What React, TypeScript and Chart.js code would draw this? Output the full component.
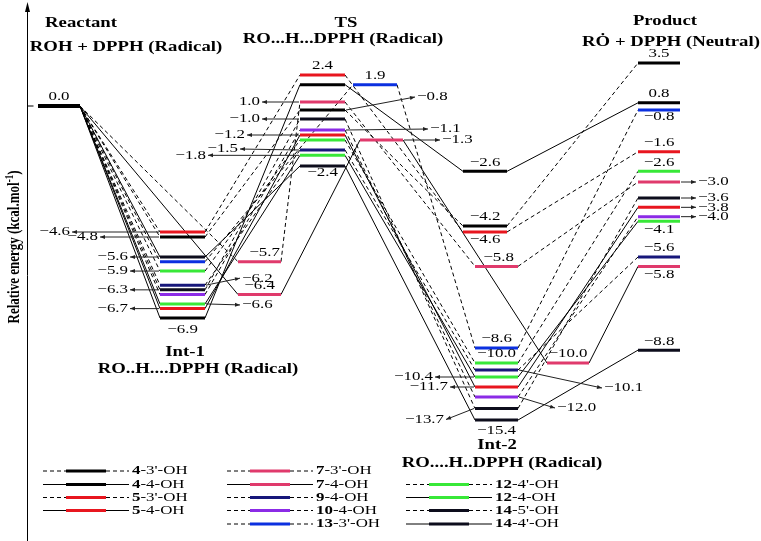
import React, { useEffect, useRef } from 'react';
import { Chart, registerables, LinearScale } from 'chart.js';

// ---------------- data ----------------
const stages = ['Reactant', 'Int-1', 'TS', 'Int-2', 'Product'];
const seriesNames = ["4-3'-OH", "4-4-OH", "5-3'-OH", "5-4-OH", "7-3'-OH", "7-4-OH", "9-4-OH", "10-4-OH", "13-3'-OH", "12-4'-OH", "12-4-OH", "14-5'-OH", "14-4'-OH"];
// relative energies (kcal/mol) per stage: Reactant, Int-1, TS, Int-2, Product
const e4_3 = [0, -4.8, -0.8, -4.2, 3.5];
const e4_4 = [0, -6.9, 1.9, -2.6, 0.8];
const e5_3 = [0, -4.6, 2.4, -4.6, -1.6];
const e5_4 = [0, -6.7, -1.2, -11.7, -3.8];
const e7_3 = [0, -5.7, 1.0, -5.8, -3.0];
const e7_4 = [0, -6.4, -1.3, -10.0, -5.8];
const e9_4 = [0, -6.2, -1.5, -10.1, -5.6];
const e10_4 = [0, -6.4, -1.1, -12.0, -4.0];
const e13_3 = [0, -5.7, 1.9, -8.6, -0.8];
const e12_4p = [0, -5.9, -1.3, -10.0, -2.6];
const e12_4 = [0, -6.6, -1.8, -10.4, -4.1];
const e14_5 = [0, -6.3, -1.0, -13.7, -3.6];
const e14_4 = [0, -5.6, -2.4, -15.4, -8.8];
const ENERGIES = [e4_3, e4_4, e5_3, e5_4, e7_3, e7_4, e9_4, e10_4, e13_3, e12_4p, e12_4, e14_5, e14_4];

// ---------------- styles / layout ----------------
const BLACK = '#000000', RED = '#e8161f', PINK = '#e03a6c', NAVY = '#17177a', PURPLE = '#8b2be6', BLUE = '#0b30e0', GREEN = '#38e838', DARK = '#0d0d1c';
const COLORS = [BLACK, BLACK, RED, RED, PINK, PINK, NAVY, PURPLE, BLUE, GREEN, GREEN, DARK, DARK];
const DASHED = [true, false, true, false, true, false, true, true, true, true, false, true, false];

// horizontal extent of each stage column (x-axis units)
const COLS: Record<string, [number, number]> = {
  R: [38, 80], I1: [160, 205], I1b: [238, 281], TS: [300, 345], TSb: [353, 397], TSc: [360, 403],
  I2: [475, 518], I2t: [463, 507], I2b: [547, 589], P: [638, 680],
};
const SERIES_COLS = seriesNames.map((_, i) =>
  i === 4 ? ['R', 'I1b', 'TS', 'I2', 'P'] :
  i === 5 ? ['R', 'I1b', 'TSc', 'I2b', 'P'] :
  i === 8 ? ['R', 'I1', 'TSb', 'I2', 'P'] :
  i <= 2 ? ['R', 'I1', 'TS', 'I2t', 'P'] : ['R', 'I1', 'TS', 'I2', 'P']);

// schematic (non-linear) energy axis: energy -> drawing depth
const Y_KNOTS: number[][] = [
  [3.5, 63], [2.4, 75], [1.0, 102], [0, 106], [-0.8, 110], [-1.0, 119], [-1.1, 130], [-1.5, 150],
  [-2.4, 166], [-3.6, 198], [-4.2, 226], [-4.6, 232], [-5.6, 257], [-6.9, 318], [-8.6, 348],
  [-10.0, 363], [-10.1, 370], [-10.4, 377], [-11.7, 387], [-12.0, 397], [-15.4, 420],
];
const DEPTH_MIN = 0, DEPTH_MAX = 541;

// label placement: [series, stage, position, dx, dy]
const LABELS: [number, number, string, number?, number?][] = [
  [0, 0, 'above'],
  [2, 1, 'left', -88, 0], [0, 1, 'left', -60, 0], [12, 1, 'left', -30, 0], [9, 1, 'left', -30, 0],
  [6, 1, 'right', 35, -7], [11, 1, 'left', -30, 0], [10, 1, 'right', 35, 1], [3, 1, 'left', -30, 0],
  [1, 1, 'below', 0, 12], [4, 1, 'above', 5, 0], [5, 1, 'above', 0, 0],
  [2, 2, 'above'], [8, 2, 'above'], [4, 2, 'left', -38, 0], [0, 2, 'right', 70, -13], [11, 2, 'left', -38, 0],
  [7, 2, 'right', 83, -1], [3, 2, 'left', -53, 0], [5, 2, 'right', 37, 0], [6, 2, 'left', -60, -1],
  [10, 2, 'left', -92, 0], [12, 2, 'below', 0, 7],
  [1, 3, 'above'], [0, 3, 'above'], [2, 3, 'below', 0, 8], [4, 3, 'above', 2, 0], [8, 3, 'above'], [9, 3, 'above'],
  [6, 3, 'right', 84, 18], [10, 3, 'left', -40, 0], [3, 3, 'left', -25, 0], [7, 3, 'right', 37, 11],
  [11, 3, 'left', -29, 11], [12, 3, 'below', 0, 11], [5, 3, 'above'],
  [0, 4, 'above'], [1, 4, 'above'], [8, 4, 'below', 0, 7], [2, 4, 'above'], [9, 4, 'above'],
  [4, 4, 'right', 16, 0], [11, 4, 'right', 16, 0], [3, 4, 'right', 16, 0], [7, 4, 'right', 16, 0],
  [10, 4, 'below', 0, 8], [6, 4, 'above'], [5, 4, 'below', 0, 8], [12, 4, 'above'],
];

const TITLES: [string, number, number][] = [
  ['Reactant', 81, 23], ['ROH + DPPH (Radical)', 126, 47],
  ['TS', 346, 23], ['RO...H...DPPH (Radical)', 343, 39],
  ['Product', 665, 21], ['R\u022E + DPPH (Neutral)', 671, 42],
  ['Int-1', 185, 352], ['RO..H....DPPH (Radical)', 198, 369],
  ['Int-2', 497, 445], ['RO....H..DPPH (Radical)', 502, 463],
];

// legend: [series, x0, row]
const LEGEND_ROWS = [471, 484.5, 497.5, 510.5, 524];
const LEGEND: [number, number, number][] = [
  [0, 43, 0], [1, 43, 1], [2, 43, 2], [3, 43, 3],
  [4, 227, 0], [5, 227, 1], [6, 227, 2], [7, 227, 3], [8, 227, 4],
  [9, 406, 1], [10, 406, 2], [11, 406, 3], [12, 406, 4],
];

// ---------------- custom schematic scale ----------------
function depthOf(v: number): number {
  const k = Y_KNOTS;
  let i = 0;
  if (v >= k[0][0]) i = 0;
  else if (v <= k[k.length - 1][0]) i = k.length - 2;
  else { while (i < k.length - 2 && !(v <= k[i][0] && v >= k[i + 1][0])) i++; }
  const [e0, d0] = k[i], [e1, d1] = k[i + 1];
  return d0 + (v - e0) * (d1 - d0) / (e1 - e0);
}
class SchematicScale extends LinearScale {
  static id = 'schematic';
  static defaults = {};
  getPixelForValue(v: number) {
    const d = depthOf(v);
    return this.top + (d - DEPTH_MIN) / (DEPTH_MAX - DEPTH_MIN) * (this.bottom - this.top);
  }
  getValueForPixel(p: number) {
    const d = DEPTH_MIN + (p - this.top) / (this.bottom - this.top) * (DEPTH_MAX - DEPTH_MIN);
    const k = Y_KNOTS;
    for (let i = 0; i < k.length - 1; i++) {
      const [e0, d0] = k[i], [e1, d1] = k[i + 1];
      if (d >= d0 && d <= d1) return e0 + (d - d0) * (e1 - e0) / (d1 - d0);
    }
    return 0;
  }
}
Chart.register(...registerables, SchematicScale as any);

const fmt = (v: number) => (v < 0 ? '\u2212' : '') + Math.abs(v).toFixed(1);
const SERIF = '"Liberation Serif", "Times New Roman", serif';

function sText(ctx: CanvasRenderingContext2D, s: string, x: number, y: number, align: CanvasTextAlign, font: string, sx: number) {
  ctx.save();
  ctx.font = font;
  ctx.translate(x, y);
  ctx.scale(sx, 1);
  ctx.textAlign = align;
  ctx.textBaseline = 'middle';
  ctx.fillStyle = '#000';
  ctx.fillText(s, 0, 0);
  ctx.restore();
}
function arrow(ctx: CanvasRenderingContext2D, x0: number, y0: number, x1: number, y1: number) {
  ctx.save();
  ctx.strokeStyle = '#222';
  ctx.fillStyle = '#222';
  ctx.lineWidth = 1;
  ctx.setLineDash([]);
  ctx.beginPath(); ctx.moveTo(x0, y0); ctx.lineTo(x1, y1); ctx.stroke();
  const a = Math.atan2(y1 - y0, x1 - x0);
  ctx.beginPath();
  ctx.moveTo(x1, y1);
  ctx.lineTo(x1 - 5 * Math.cos(a) + 2 * Math.sin(a), y1 - 5 * Math.sin(a) - 2 * Math.cos(a));
  ctx.lineTo(x1 - 5 * Math.cos(a) - 2 * Math.sin(a), y1 - 5 * Math.sin(a) + 2 * Math.cos(a));
  ctx.closePath(); ctx.fill();
  ctx.restore();
}

const annotPlugin = {
  id: 'annot',
  afterDatasetsDraw(chart: any) {
    const ctx: CanvasRenderingContext2D = chart.ctx;
    const xs = chart.scales.x, ys = chart.scales.y;
    const NUM = `13px ${SERIF}`;
    // axis
    const ax = Math.round(xs.getPixelForValue(27)) + 0.5;
    ctx.save();
    ctx.strokeStyle = '#000'; ctx.lineWidth = 1;
    ctx.beginPath(); ctx.moveTo(ax, 10); ctx.lineTo(ax, chart.height); ctx.stroke();
    ctx.fillStyle = '#000';
    ctx.beginPath(); ctx.moveTo(ax, 2); ctx.lineTo(ax - 2.5, 12); ctx.lineTo(ax + 2.5, 12); ctx.closePath(); ctx.fill();
    const y0 = ys.getPixelForValue(0);
    ctx.beginPath(); ctx.moveTo(ax, y0); ctx.lineTo(ax + 6, y0); ctx.stroke();
    ctx.restore();
    // y-axis title
    ctx.save();
    ctx.translate(15, 247);
    ctx.rotate(-Math.PI / 2);
    ctx.scale(1, 1.3);
    ctx.fillStyle = '#000';
    ctx.textBaseline = 'middle';
    ctx.textAlign = 'left';
    const main = 'Relative energy (kcal.mol';
    ctx.font = `bold 13px ${SERIF}`;
    const w1 = ctx.measureText(main).width;
    const w3 = ctx.measureText(')').width;
    ctx.font = `bold 9px ${SERIF}`;
    const w2 = ctx.measureText('-1').width;
    const start = -(w1 + w2 + w3) / 2;
    ctx.font = `bold 13px ${SERIF}`;
    ctx.fillText(main, start, 0);
    ctx.font = `bold 9px ${SERIF}`;
    ctx.fillText('-1', start + w1, -4);
    ctx.font = `bold 13px ${SERIF}`;
    ctx.fillText(')', start + w1 + w2, 0);
    ctx.restore();
    // titles
    for (const [t, x, y] of TITLES) sText(ctx, t, x, y, 'center', `bold 15px ${SERIF}`, 1.25);
    // value labels
    for (const [s, st, pos, dxv, dyv] of LABELS) {
      const dx = dxv ?? 0, dy = dyv ?? 0;
      const [a, b] = COLS[SERIES_COLS[s][st]];
      const e = ENERGIES[s][st];
      const xa = xs.getPixelForValue(a), xb = xs.getPixelForValue(b), y = ys.getPixelForValue(e);
      const t = fmt(e);
      if (pos === 'above') sText(ctx, t, (xa + xb) / 2 + dx, y - 9 + dy, 'center', NUM, 1.3);
      else if (pos === 'below') sText(ctx, t, (xa + xb) / 2 + dx, y + (dyv ?? 9), 'center', NUM, 1.3);
      else if (pos === 'left') {
        arrow(ctx, xa - 1, y, xa + dx, y + dy);
        sText(ctx, t, xa + dx - 2, y + dy, 'right', NUM, 1.3);
      } else if (pos === 'right') {
        arrow(ctx, xb + 1, y, xb + dx, y + dy);
        sText(ctx, t, xb + dx + 2, y + dy, 'left', NUM, 1.3);
      }
    }
    // legend
    for (const [s, x0, row] of LEGEND) {
      const y = LEGEND_ROWS[row];
      ctx.save();
      ctx.strokeStyle = '#000'; ctx.lineWidth = 1;
      ctx.setLineDash(DASHED[s] ? [4, 3] : []);
      ctx.beginPath(); ctx.moveTo(x0, y); ctx.lineTo(x0 + 23, y); ctx.moveTo(x0 + 63, y); ctx.lineTo(x0 + 86, y); ctx.stroke();
      ctx.setLineDash([]);
      ctx.strokeStyle = COLORS[s]; ctx.lineWidth = 3;
      ctx.beginPath(); ctx.moveTo(x0 + 23, y); ctx.lineTo(x0 + 63, y); ctx.stroke();
      ctx.restore();
      const name = seriesNames[s];
      const k = name.indexOf('-');
      const num = name.slice(0, k), rest = name.slice(k);
      ctx.save();
      ctx.font = `bold 13px ${SERIF}`;
      const wn = ctx.measureText(num).width * 1.3;
      ctx.restore();
      sText(ctx, num, x0 + 89, y, 'left', `bold 13px ${SERIF}`, 1.3);
      sText(ctx, rest, x0 + 89 + wn, y, 'left', `13px ${SERIF}`, 1.3);
    }
  },
};

function buildDatasets() {
  const out: any[] = [];
  ENERGIES.forEach((en, s) => {
    const pts: { x: number; y: number }[] = [];
    stages.forEach((_, st) => {
      const [a, b] = COLS[SERIES_COLS[s][st]];
      pts.push({ x: a, y: en[st] }, { x: b, y: en[st] });
    });
    const color = COLORS[s];
    out.push({
      label: seriesNames[s] + ' links',
      data: pts,
      order: 2,
      borderColor: BLACK,
      borderWidth: 1,
      borderDash: DASHED[s] ? [4, 3] : [],
      pointRadius: 0,
      tension: 0,
      segment: { borderColor: (c: any) => (c.p0DataIndex % 2 === 0 ? 'rgba(0,0,0,0)' : BLACK) },
    });
    out.push({
      label: seriesNames[s],
      data: pts,
      order: 1,
      borderColor: color,
      borderWidth: 3,
      borderCapStyle: 'butt',
      pointRadius: 0,
      tension: 0,
      segment: {
        borderColor: (c: any) => (c.p0DataIndex % 2 === 1 ? 'rgba(0,0,0,0)' : c.p0DataIndex === 0 ? BLACK : color),
      },
    });
  });
  return out;
}

export default function App() {
  const ref = useRef<HTMLCanvasElement>(null);
  useEffect(() => {
    const chart = new Chart(ref.current as HTMLCanvasElement, {
      type: 'line',
      data: { datasets: buildDatasets() },
      options: {
        responsive: true,
        maintainAspectRatio: false,
        animation: false,
        events: [],
        layout: { padding: 0 },
        plugins: { legend: { display: false }, tooltip: { enabled: false }, title: { display: false } },
        scales: {
          x: { type: 'linear', min: 0, max: 761, display: false },
          y: { type: 'schematic' as any, display: false },
        },
      } as any,
      plugins: [annotPlugin],
    });
    return () => chart.destroy();
  }, []);
  return (
    <div style={{ position: 'fixed', left: 0, top: 0, width: 761, height: 541, background: '#fff' }}>
      <canvas ref={ref} />
    </div>
  );
}
